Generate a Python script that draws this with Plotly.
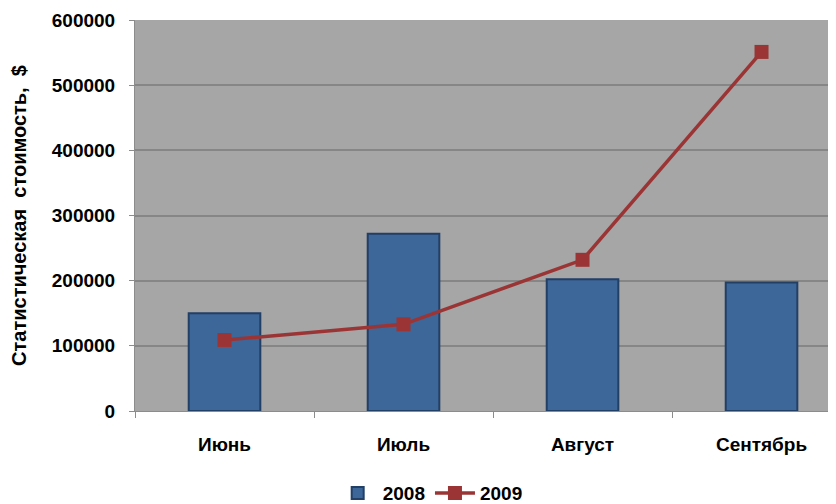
import plotly.graph_objects as go

months = ["Июнь", "Июль", "Август", "Сентябрь"]
values_2008 = [150000, 272000, 202000, 197000]
values_2009 = [109000, 133000, 232000, 551000]
y_ticks = [0, 100000, 200000, 300000, 400000, 500000, 600000]
y_tick_labels = ["0", "100000", "200000", "300000", "400000", "500000", "600000"]
y_title = "Статистическая\u00a0\u00a0стоимость,\u00a0\u00a0$"

font = "Liberation Sans, Arial, sans-serif"

fig = go.Figure()
fig.add_trace(go.Bar(
    x=months, y=values_2008, name="2008", width=0.40,
    marker=dict(color="#3D6699", line=dict(color="#223F66", width=2)),
))
fig.add_trace(go.Scatter(
    x=months, y=values_2009, name="2009", mode="lines+markers",
    line=dict(color="#9B3535", width=3.5),
    marker=dict(symbol="square", size=14, color="#9B3535"),
))

# page body has an 8px default margin: figure is sized to fit the 836x504 window
fig.update_layout(
    width=828, height=496,
    margin=dict(l=127, r=0, t=12, b=93, autoexpand=False),
    paper_bgcolor="white", plot_bgcolor="#A6A6A6",
    font=dict(family=font, size=19, color="black"),
    showlegend=True,
    legend=dict(orientation="h", x=0.282, xanchor="left", y=-0.21, yanchor="middle",
                font=dict(family=font, size=19, color="black", weight="bold"),
                itemwidth=40, tracegroupgap=0, bgcolor="rgba(0,0,0,0)"),
    bargap=0.6,
)
fig.update_xaxes(
    range=[-0.5, 3.416], showgrid=False, showline=True, linecolor="#8C8C8C", linewidth=1,
    ticks="outside", tickson="boundaries", ticklen=6, tickcolor="#8C8C8C",
    tickfont=dict(family=font, size=19, color="black", weight="bold"),
    ticklabelstandoff=16, automargin=False,
)
fig.update_yaxes(
    range=[0, 600000], tickvals=y_ticks, ticktext=y_tick_labels,
    showgrid=True, gridcolor="#868686", gridwidth=1.5,
    showline=True, linecolor="#8C8C8C", linewidth=1,
    ticks="outside", ticklen=5, tickcolor="#8C8C8C",
    tickfont=dict(family=font, size=19, color="black", weight="bold"),
    ticklabelstandoff=10, zeroline=False, automargin=False,
    title=dict(text=y_title, standoff=22,
               font=dict(family=font, size=20, color="black", weight="bold")),
)

fig.write_html("out.html")
